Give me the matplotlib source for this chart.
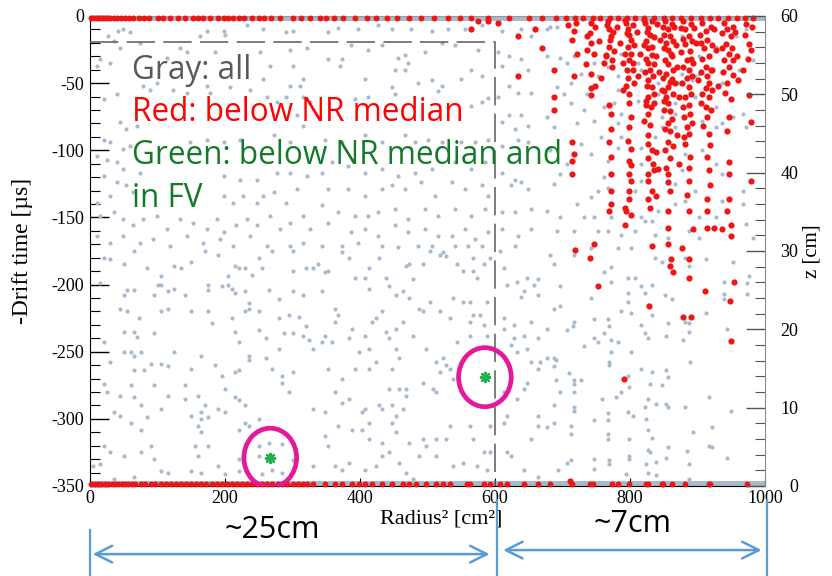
import matplotlib
matplotlib.use("Agg")
import numpy as np
import matplotlib.pyplot as plt
from matplotlib import transforms
from matplotlib.patches import Ellipse
from matplotlib.ticker import MultipleLocator

plt.rcParams["font.family"] = ["Liberation Serif", "DejaVu Serif"]
plt.rcParams["axes.unicode_minus"] = False

# events as (radius^2 [cm^2], -drift time [us])
gray_upper_left = [
    (42, -11), (49, -10), (59, -12), (27, -15), (35, -19), (74, -20), (163, -15), (173, -11), (198, -11),
    (200, -14), (232, -7), (257, -10), (291, -12), (301, -11), (44, -24), (133, -24), (143, -27), (185, -27),
    (252, -27), (296, -25), (321, -24), (15, -32), (10, -37), (30, -35), (114, -31), (267, -37), (301, -37),
    (257, -47), (296, -52), (311, -52), (316, -47), (79, -52), (89, -55), (99, -50), (123, -55), (143, -57),
    (173, -52), (178, -57), (207, -53), (237, -55), (262, -60), (291, -60), (316, -60), (20, -62), (40, -58),
    (277, -64), (326, -64), (44, -79), (54, -84), (69, -82), (20, -92), (30, -94), (49, -99), (59, -97),
    (10, -104), (25, -107), (40, -109), (49, -114), (148, -94), (173, -92), (198, -94), (222, -92), (272, -89),
    (296, -94), (316, -82), (306, -74), (74, -117), (20, -119), (40, -124), (54, -126), (64, -131), (10, -139),
    (30, -134), (198, -119), (222, -122), (247, -122), (277, -117), (296, -117), (321, -119), (198, -134),
    (212, -139), (227, -134), (247, -139), (257, -134), (272, -131), (291, -139), (306, -129), (15, -149),
    (35, -146), (49, -151), (64, -156), (79, -151), (99, -149), (114, -159), (133, -151), (153, -154),
    (173, -159), (188, -151), (198, -161), (217, -156), (232, -151), (247, -156), (267, -149), (281, -159),
    (296, -154), (316, -149), (326, -159), (10, -164), (30, -169), (49, -164), (74, -169), (94, -166),
    (119, -171), (143, -164), (168, -169), (193, -166), (212, -171), (237, -164), (262, -171), (296, -171),
    (316, -169),
]
gray_upper_mid = [
    (353, -12), (368, -9), (397, -10), (427, -7), (447, -10), (476, -10), (506, -11), (531, -10), (555, -10),
    (580, -7), (610, -11), (639, -10), (654, -15), (387, -22), (412, -25), (432, -22), (457, -31), (466, -29),
    (471, -35), (466, -40), (452, -40), (496, -27), (521, -20), (540, -22), (575, -25), (605, -27), (620, -30),
    (639, -32), (610, -37), (649, -40), (373, -32), (370, -37), (353, -32), (407, -47), (447, -53), (452, -58),
    (486, -50), (506, -48), (521, -52), (516, -56), (550, -47), (565, -40), (580, -45), (590, -61), (580, -64),
    (605, -60), (620, -52), (634, -57), (654, -57), (412, -60), (392, -62), (565, -67), (620, -74), (639, -74),
    (649, -82), (629, -84), (610, -79), (348, -92), (373, -94), (407, -89), (432, -94), (466, -89), (481, -94),
    (501, -92), (521, -94), (550, -94), (570, -94), (590, -92), (610, -97), (634, -92), (649, -94), (358, -109),
    (382, -112), (343, -117), (407, -117), (432, -114), (457, -119), (481, -117), (506, -114), (540, -109),
    (565, -114), (585, -109), (610, -117), (629, -122), (639, -124), (353, -129), (382, -129), (407, -134),
    (432, -129), (447, -126), (466, -129), (491, -124), (511, -134), (536, -124), (555, -129), (580, -126),
    (590, -134), (624, -126), (649, -129), (343, -141), (368, -146), (392, -149), (412, -149), (427, -146),
    (452, -144), (471, -151), (496, -144), (516, -149), (540, -144), (565, -149), (585, -144), (610, -146),
    (629, -146), (654, -144), (353, -154), (387, -161), (407, -159), (427, -164), (452, -156), (471, -161),
    (496, -159), (516, -164), (536, -164), (555, -159), (570, -166), (590, -161), (610, -159), (634, -164),
    (654, -159), (343, -171), (373, -171), (397, -169), (432, -171), (457, -172), (486, -171), (506, -171),
    (540, -171), (560, -171), (580, -171), (629, -171),
]
gray_upper_right = [
    (677, -10), (682, -8), (692, -8), (697, -31), (707, -35), (677, -30), (717, -30), (727, -43), (747, -35),
    (752, -45), (737, -58), (782, -45), (782, -55), (777, -65), (787, -73), (762, -68), (782, -80), (787, -90),
    (782, -98), (767, -108), (762, -120), (752, -130), (767, -128), (742, -135), (722, -140), (732, -150),
    (747, -150), (752, -160), (767, -160), (772, -150), (787, -163), (807, -160), (817, -150), (822, -153),
    (807, -130), (817, -123), (817, -110), (817, -98), (837, -90), (847, -75), (847, -83), (867, -83),
    (867, -73), (872, -50), (892, -48), (897, -45), (902, -43), (897, -60), (907, -78), (927, -83), (927, -68),
    (937, -80), (952, -75), (967, -73), (972, -83), (967, -130), (967, -140), (972, -155), (982, -165),
    (937, -118), (927, -110), (907, -100), (882, -103), (877, -115), (867, -125), (897, -130), (882, -138),
    (867, -140), (842, -145), (832, -153), (887, -160), (902, -150), (927, -150), (937, -138), (902, -165),
    (857, -165), (837, -163), (802, -173), (782, -173), (742, -173), (717, -160), (697, -150), (692, -160),
    (687, -125), (707, -110), (697, -118), (677, -145), (727, -95), (742, -103), (757, -90), (747, -78),
    (722, -80), (732, -70), (712, -65), (702, -58), (692, -53), (712, -50), (677, -75), (687, -83), (682, -100),
    (867, -65), (842, -58), (812, -63), (817, -40), (842, -50), (877, -43), (902, -30), (927, -23), (957, -15),
    (972, -10), (982, -33), (962, -40), (937, -50), (877, -15), (842, -5), (812, -35), (787, -28), (767, -38),
]
gray_lower_left = [
    (20, -180), (30, -181), (50, -185), (65, -175), (85, -188), (105, -194), (125, -186), (135, -188),
    (150, -183), (170, -175), (190, -178), (205, -194), (215, -186), (220, -188), (230, -188), (240, -193),
    (250, -180), (255, -188), (270, -175), (300, -190), (320, -188), (330, -188), (300, -175), (15, -199),
    (50, -208), (65, -204), (55, -204), (95, -208), (100, -200), (105, -200), (115, -205), (125, -203),
    (140, -208), (175, -200), (175, -204), (195, -201), (205, -200), (210, -203), (215, -206), (230, -205),
    (235, -214), (235, -218), (265, -204), (280, -211), (300, -205), (315, -208), (295, -223), (45, -218),
    (55, -220), (72, -225), (105, -220), (115, -218), (150, -220), (175, -220), (180, -229), (210, -225),
    (230, -220), (250, -220), (280, -225), (310, -224), (320, -231), (50, -235), (65, -235), (70, -239),
    (95, -236), (20, -243), (60, -250), (65, -253), (75, -250), (90, -259), (105, -259), (115, -261),
    (30, -258), (65, -264), (80, -264), (50, -250), (125, -250), (150, -263), (165, -253), (185, -260),
    (215, -235), (220, -243), (250, -234), (260, -240), (280, -248), (260, -255), (270, -263), (285, -268),
    (300, -265), (288, -236), (300, -236), (315, -238), (325, -241), (330, -248), (235, -253), (235, -256),
    (220, -264), (195, -268), (215, -265), (20, -274), (25, -280), (45, -283), (60, -275), (65, -284),
    (75, -290), (95, -275), (105, -293), (115, -283), (140, -275), (140, -285), (160, -283), (165, -295),
    (175, -299), (165, -300), (170, -290), (190, -293), (200, -295), (200, -278), (215, -284), (220, -286),
    (230, -290), (235, -305), (250, -300), (285, -273), (295, -280), (330, -293), (35, -295), (45, -298),
    (60, -303), (85, -299), (150, -298), (160, -305), (165, -310), (220, -308), (230, -303), (75, -308),
    (20, -320), (30, -325), (50, -328), (75, -325), (90, -320), (95, -330), (155, -320), (160, -328),
    (175, -320), (220, -330), (190, -335), (165, -340), (105, -339), (115, -340), (150, -339), (65, -343),
    (35, -345), (5, -335), (15, -334), (150, -348), (75, -348), (200, -341), (220, -339), (250, -320),
    (265, -318), (285, -319), (250, -328), (270, -338), (285, -340), (300, -331), (330, -335), (255, -341),
]
gray_lower_mid = [
    (338, -185), (348, -191), (353, -190), (373, -176), (383, -180), (393, -195), (408, -195), (413, -188),
    (413, -203), (428, -180), (438, -195), (443, -201), (453, -208), (463, -205), (468, -186), (473, -185),
    (478, -196), (493, -185), (503, -175), (518, -178), (523, -176), (528, -179), (543, -185), (553, -190),
    (568, -180), (568, -190), (573, -195), (583, -185), (593, -180), (588, -213), (608, -175), (613, -188),
    (618, -200), (633, -198), (638, -209), (643, -205), (648, -195), (658, -200), (663, -196), (663, -208),
    (343, -205), (363, -218), (368, -223), (363, -228), (348, -238), (343, -243), (358, -243), (383, -240),
    (388, -233), (408, -238), (413, -248), (418, -228), (423, -225), (433, -220), (438, -235), (453, -233),
    (463, -228), (473, -210), (488, -218), (493, -220), (503, -213), (518, -220), (533, -225), (538, -210),
    (553, -213), (563, -213), (563, -228), (568, -223), (578, -223), (583, -230), (588, -238), (563, -238),
    (543, -243), (498, -248), (478, -238), (453, -248), (443, -240), (458, -255), (448, -263), (423, -258),
    (413, -263), (393, -263), (373, -270), (353, -263), (398, -250), (613, -225), (613, -233), (628, -230),
    (628, -240), (643, -238), (653, -228), (663, -240), (648, -248), (633, -250), (623, -245), (513, -258),
    (523, -255), (528, -260), (533, -263), (518, -265), (538, -270), (508, -278), (513, -280), (493, -273),
    (468, -278), (458, -278), (468, -283), (443, -278), (428, -290), (433, -293), (448, -290), (453, -298),
    (463, -293), (408, -293), (403, -295), (413, -303), (383, -285), (373, -288), (363, -280), (348, -295),
    (368, -305), (613, -280), (618, -298), (633, -285), (643, -278), (648, -273), (653, -258), (663, -263),
    (663, -298), (663, -305), (653, -315), (348, -313), (353, -320), (388, -308), (403, -308), (413, -315),
    (433, -318), (448, -303), (453, -310), (473, -318), (493, -315), (513, -315), (528, -315), (533, -305),
    (563, -305), (568, -315), (583, -325), (593, -305), (613, -303), (618, -325), (623, -328), (643, -338),
    (663, -343), (363, -335), (373, -338), (383, -333), (408, -338), (423, -335), (433, -328), (443, -325),
    (458, -333), (468, -340), (488, -328), (498, -320), (513, -328), (538, -335), (553, -333), (573, -335),
    (588, -338), (593, -325), (423, -348), (478, -345), (508, -348), (533, -348),
]
gray_lower_right = [
    (682, -178), (687, -185), (717, -178), (697, -201), (687, -218), (697, -216), (677, -233), (707, -234),
    (717, -228), (715, -231), (742, -210), (772, -187), (762, -191), (772, -198), (747, -226), (747, -240),
    (752, -243), (732, -246), (769, -231), (762, -236), (767, -226), (772, -241), (782, -243), (797, -195),
    (807, -195), (797, -206), (797, -213), (787, -220), (802, -221), (817, -201), (822, -206), (827, -215),
    (832, -200), (832, -223), (817, -230), (822, -236), (827, -240), (837, -180), (847, -183), (852, -208),
    (857, -229), (862, -211), (854, -238), (882, -180), (887, -186), (882, -228), (887, -229), (887, -235),
    (879, -241), (912, -181), (912, -221), (939, -198), (939, -207), (939, -211), (944, -233), (974, -199),
    (977, -194), (973, -207), (952, -183), (667, -258), (677, -255), (687, -255), (690, -256), (687, -261),
    (690, -271), (717, -271), (727, -271), (710, -266), (717, -274), (717, -280), (697, -280), (687, -290),
    (717, -291), (717, -294), (687, -303), (677, -306), (712, -305), (712, -311), (769, -258), (769, -260),
    (772, -250), (759, -285), (747, -301), (767, -296), (767, -301), (767, -311), (767, -315), (779, -284),
    (787, -280), (797, -268), (799, -276), (802, -250), (804, -298), (797, -295), (799, -315), (817, -263),
    (822, -291), (827, -285), (832, -265), (829, -274), (824, -300), (827, -308), (832, -314), (839, -289),
    (847, -275), (854, -264), (857, -269), (854, -289), (857, -291), (889, -258), (882, -291), (917, -284),
    (922, -306), (922, -321), (894, -310), (949, -294), (944, -329), (884, -324), (857, -321), (854, -329),
    (839, -332), (824, -334), (827, -323), (829, -325), (799, -328), (799, -330), (794, -341), (769, -331),
    (769, -334), (747, -330), (747, -337), (712, -331), (707, -333), (694, -338), (827, -340), (839, -342),
    (887, -334), (887, -345), (917, -320),
]

# events below the NR median
red_upper = [
    (565, -10), (575, -4), (590, -4), (605, -5), (634, -15), (659, -10), (634, -45), (669, -24),
    (717, -11), (714, -18), (717, -45), (714, -94), (717, -103), (714, -108), (714, -118), (719, -174),
    (687, -40), (688, -60), (688, -70), (742, -5), (740, -13), (742, -20), (737, -25), (742, -43),
    (742, -54), (742, -59), (747, -170), (754, -19), (757, -46), (762, -35), (764, -30), (767, -4),
    (769, -10), (772, -15), (769, -23), (774, -33), (769, -66), (772, -73), (772, -84), (769, -94),
    (772, -105), (772, -118), (772, -130), (772, -140), (769, -145), (792, -143), (794, -145), (792, -156),
    (794, -5), (797, -10), (799, -14), (802, -18), (797, -23), (802, -28), (799, -33), (804, -40),
    (797, -46), (799, -58), (799, -65), (802, -75), (799, -83), (797, -93), (802, -99), (799, -108),
    (802, -111), (799, -118), (802, -123), (799, -130), (799, -136), (802, -148), (822, -5), (827, -9),
    (829, -14), (824, -19), (827, -24), (832, -29), (827, -35), (829, -40), (827, -48), (832, -53),
    (827, -60), (824, -66), (827, -73), (829, -81), (827, -89), (832, -100), (827, -106), (834, -110),
    (827, -118), (827, -123), (832, -130), (827, -136), (829, -143), (832, -171), (839, -101), (839, -134),
    (842, -114), (852, -4), (857, -10), (859, -15), (854, -20), (857, -25), (862, -30), (857, -36),
    (854, -43), (859, -49), (857, -53), (854, -60), (857, -65), (859, -71), (857, -80), (859, -86),
    (857, -94), (852, -100), (859, -106), (854, -113), (857, -118), (857, -124), (859, -130), (857, -145),
    (857, -158), (857, -170), (872, -60), (869, -89), (872, -110), (879, -4), (882, -10), (887, -15),
    (882, -21), (889, -26), (884, -33), (887, -40), (884, -46), (887, -53), (882, -60), (887, -66),
    (889, -73), (884, -83), (887, -88), (882, -95), (889, -105), (887, -113), (887, -123), (884, -133),
    (887, -145), (894, -159), (877, -173), (907, -5), (912, -11), (914, -18), (909, -24), (917, -30),
    (912, -38), (914, -45), (917, -50), (912, -54), (917, -60), (912, -68), (914, -75), (917, -88),
    (919, -96), (914, -105), (917, -115), (919, -126), (914, -136), (914, -145), (914, -158), (924, -158),
    (937, -159), (939, -5), (944, -10), (949, -15), (942, -21), (947, -28), (939, -33), (947, -38),
    (952, -44), (944, -50), (947, -75), (944, -86), (947, -109), (947, -118), (947, -136), (944, -145),
    (949, -156), (949, -164), (972, -6), (977, -21), (979, -25), (977, -59), (979, -79), (979, -123),
    (780, -8), (785, -20), (790, -35), (810, -12), (815, -28), (812, -45), (840, -6), (845, -18),
    (838, -30), (843, -42), (848, -55), (835, -65), (865, -8), (868, -22), (870, -38), (866, -50),
    (895, -9), (898, -20), (893, -35), (900, -48), (925, -10), (928, -25), (922, -40), (930, -52),
    (955, -12), (958, -30), (960, -48), (820, -78), (850, -70), (880, -75), (905, -65), (790, -55),
]
# densest part of the columns near the gate
red_columns = [
    (766, -7), (775, -12), (770, -18), (777, -26), (765, -29), (773, -38),
    (792, -3), (805, -7), (796, -13), (806, -22), (793, -28), (804, -35), (795, -40), (806, -50), (794, -52),
    (820, -3), (832, -4), (825, -12), (835, -16), (821, -22), (833, -23), (824, -32), (836, -36), (822, -42),
    (834, -45), (825, -52), (836, -58), (823, -63), (831, -68), (826, -95), (835, -115),
    (849, -8), (862, -6), (851, -14), (864, -19), (850, -24), (861, -28), (852, -33), (864, -40), (849, -46),
    (862, -47), (851, -56), (863, -58), (850, -63), (862, -77), (852, -84), (863, -97),
    (876, -9), (890, -6), (878, -17), (892, -19), (876, -27), (891, -32), (878, -38), (892, -45), (877, -50),
    (891, -58), (879, -68), (892, -80), (880, -90),
    (904, -14), (920, -8), (905, -20), (921, -22), (906, -32), (920, -40), (905, -42), (921, -55), (907, -58),
    (920, -70), (908, -82),
    (937, -13), (952, -8), (936, -24), (951, -24), (938, -42), (953, -33), (940, -57), (950, -62),
    (970, -14), (980, -8), (975, -32), (968, -40),
    (748, -8), (736, -15), (746, -28), (735, -36), (748, -52), (708, -7), (720, -5), (722, -28),
]
red_lower = [
    (740, -180), (752, -201), (861, -181), (859, -186), (863, -191), (887, -181), (888, -195), (911, -205),
    (954, -198), (948, -212), (828, -216), (879, -224), (891, -224), (949, -242), (791, -270), (711, -346),
]
# events sitting at the gate (top) and cathode (bottom)
red_top_x = [
    2, 6, 10, 14, 18, 22, 26, 30, 35, 40, 46, 52, 58, 64, 72, 80, 88, 100, 108, 118, 130, 140, 152, 160,
    168, 178, 190, 198, 205, 212, 220, 228, 240, 250, 258, 268, 282, 300, 312, 326, 340, 350, 362, 375,
    392, 410, 424, 440, 455, 472, 490, 510, 530, 548, 565, 590, 620, 650, 670, 690, 705, 718, 730, 745,
    755, 770, 782, 795, 808, 820, 835, 850, 862, 875, 890, 905, 918, 930, 945, 958, 970, 982,
]
red_bottom_x = [
    2, 7, 12, 17, 22, 27, 32, 37, 42, 47, 52, 57, 62, 67, 75, 82, 90, 97, 105, 112, 120, 128, 135, 142,
    150, 157, 165, 172, 180, 188, 195, 203, 210, 218, 225, 233, 240, 248, 255, 262, 270, 278, 285, 292,
    300, 308, 315, 322, 330, 348, 363, 373, 388, 398, 408, 418, 433, 448, 463, 473, 483, 498, 513, 523,
    533, 558, 563, 583, 593, 608, 618, 643, 663, 682, 714, 740, 745, 774, 782, 799, 824, 827, 847, 849,
    862, 882, 917, 919, 974,
]
top_t = -1.5
bottom_t = -348.5

# below NR median and inside the fiducial volume
fv_events = [(267, -329), (585, -269)]
fv_r2_cut = 600
fv_top_cut = -19.5

GRAY = "#a8bacb"
RED = "#f01414"
GREEN = "#1fb14a"
MAGENTA = "#e3189a"
BLUE = "#5b9bd5"
SANS = ["Open Sans", "DejaVu Sans"]

fig = plt.figure(figsize=(8.32, 5.76), dpi=100)
ax = fig.add_axes([0.1082, 0.1563, 0.8113, 0.8160])
ax.set_xlim(0, 1000)
ax.set_ylim(-350, 0)

# dense bands of gray events at the gate and cathode
ax.axhspan(-3.8, 0, color=GRAY, lw=0, zorder=1)
ax.axhspan(-350, -346.5, color=GRAY, lw=0, zorder=1)

gray = gray_upper_left + gray_upper_mid + gray_upper_right + gray_lower_left + gray_lower_mid + gray_lower_right
gx, gt = zip(*gray)
ax.scatter(gx, gt, s=9, c=GRAY, lw=0, zorder=2)

rx, rt = zip(*(red_upper + red_columns + red_lower))
ax.scatter(rx, rt, s=20, c=RED, lw=0, zorder=3)
ax.scatter(red_top_x, np.full(len(red_top_x), top_t), s=18, c=RED, lw=0, zorder=3, clip_on=False)
ax.scatter(red_bottom_x, np.full(len(red_bottom_x), bottom_t), s=18, c=RED, lw=0, zorder=3, clip_on=False)

# fiducial volume boundary
ax.plot([0, fv_r2_cut, fv_r2_cut], [fv_top_cut, fv_top_cut, -350], color="#666666", lw=1.2,
        ls=(0, (17, 5)), zorder=4)

fx, ft = zip(*fv_events)
ax.scatter(fx, ft, marker=(8, 2, 0), s=45, c=GREEN, lw=1.6, zorder=6)
for x, t in fv_events:
    ax.add_patch(Ellipse((x, t), width=78, height=44, fill=False, ec=MAGENTA, lw=3.4, zorder=7))

# left axis: drift time
ax.yaxis.set_major_locator(MultipleLocator(50))
ax.yaxis.set_minor_locator(MultipleLocator(10))
ax.xaxis.set_major_locator(MultipleLocator(200))
ax.tick_params(axis="y", which="major", direction="in", length=14, width=1, labelsize=13, pad=4)
ax.tick_params(axis="y", which="minor", direction="in", length=7, width=0.8)
ax.tick_params(axis="x", which="major", direction="in", length=6, width=0.8, labelsize=13, pad=3)
ax.spines["top"].set_color("#999999")
ax.spines["right"].set_visible(False)
ax.set_ylabel("-Drift time [µs]", fontsize=17)
ax.yaxis.set_label_coords(-0.085, 0.5)
ax.set_xlabel("Radius² [cm²]", fontsize=16)
ax.xaxis.set_label_coords(0.52, -0.05)

# right axis: z position
ax2 = ax.twinx()
ax2.set_ylim(0, 60)
ax2.yaxis.set_major_locator(MultipleLocator(10))
ax2.yaxis.set_minor_locator(MultipleLocator(2))
ax2.tick_params(axis="y", which="major", direction="in", length=14, width=1, color="#555555",
                labelsize=13, pad=24)
ax2.tick_params(axis="y", which="minor", direction="in", length=7, width=0.8, color="#555555")
for lab in ax2.get_yticklabels():
    lab.set_horizontalalignment("right")
for side in ["left", "top", "bottom"]:
    ax2.spines[side].set_visible(False)
ax2.spines["right"].set_color("#888888")
ax2.set_ylabel("z [cm]", fontsize=15, va="center")
ax2.yaxis.set_label_coords(1.07, 0.5)

# legend text
notes = [("Gray: all", "#595959", 0.866), ("Red: below NR median", "#ff0000", 0.777),
         ("Green: below NR median and", "#137a2a", 0.685), ("in FV", "#137a2a", 0.594)]
for txt, col, yy in notes:
    ax.text(0.062, yy, txt, transform=ax.transAxes, family=SANS, fontsize=22.7, color=col,
            va="baseline", zorder=8)

# radial extent arrows under the plot
trans = transforms.blended_transform_factory(ax.transData, fig.transFigure)
for x, top in [(0, 0.080), (603, 0.132), (1003, 0.132)]:
    ax.plot([x, x], [0, top], transform=trans, clip_on=False, color=BLUE, lw=1.6)
arrow = dict(arrowstyle="<->", color=BLUE, lw=1.8, mutation_scale=30, shrinkA=0, shrinkB=0)
ax.annotate("", xy=(4, 0.038), xytext=(592, 0.038), xycoords=trans, textcoords=trans, arrowprops=arrow)
ax.annotate("", xy=(612, 0.045), xytext=(995, 0.045), xycoords=trans, textcoords=trans, arrowprops=arrow)
ax.text(270, 0.066, "~25cm", transform=trans, family=SANS, fontsize=22, ha="center", va="baseline")
ax.text(803, 0.076, "~7cm", transform=trans, family=SANS, fontsize=22, ha="center", va="baseline")

fig.savefig("out.png", dpi=100)
